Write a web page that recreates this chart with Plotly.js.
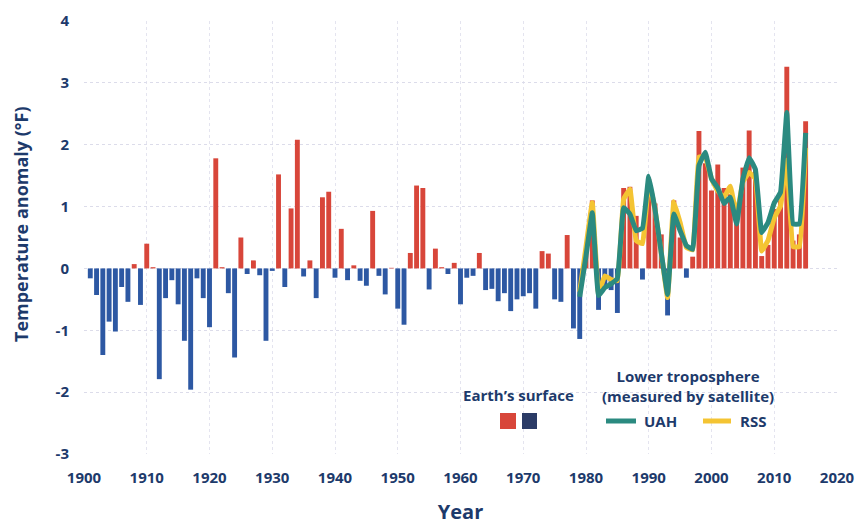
<!DOCTYPE html>
<html>
<head>
<meta charset="utf-8">
<script src="https://cdn.plot.ly/plotly-3.0.1.min.js"></script>
<style>
  html, body { margin: 0; padding: 0; background: #ffffff; }
  #chart { width: 856px; height: 525px; }
</style>
</head>
<body>
<div id="chart"></div>
<script>
// ---- Data ----
const surfaceYears = [];
for (let y = 1901; y <= 2015; y++) surfaceYears.push(y);

const surfaceAnomaly = [
  -0.16, -0.43, -1.40, -0.86, -1.02, -0.30, -0.54, 0.07, -0.59, 0.40,   // 1901-1910
   0.02, -1.79, -0.48, -0.19, -0.58, -1.17, -1.96, -0.16, -0.48, -0.95,  // 1911-1920
   1.78,  0.02, -0.40, -1.44,  0.50, -0.09,  0.13, -0.11, -1.17, -0.04,  // 1921-1930
   1.52, -0.30,  0.97,  2.08, -0.13,  0.13, -0.48,  1.15,  1.24, -0.15,  // 1931-1940
   0.64, -0.19,  0.05, -0.20, -0.28,  0.93, -0.12, -0.42,  0.01, -0.65,  // 1941-1950
  -0.91,  0.25,  1.34,  1.30, -0.34,  0.32,  0.02, -0.09,  0.09, -0.58,  // 1951-1960
  -0.15, -0.12,  0.25, -0.35, -0.33, -0.53, -0.40, -0.69, -0.50, -0.45,  // 1961-1970
  -0.40, -0.65,  0.28,  0.24, -0.50, -0.54,  0.54, -0.97, -1.14,  0.25,  // 1971-1980
   1.10, -0.67, -0.30, -0.35, -0.72,  1.30,  1.32,  0.85, -0.18,  1.45,  // 1981-1990
   1.05,  0.55, -0.76,  1.10,  0.50, -0.15,  0.19,  2.22,  1.70,  1.26,  // 1991-2000
   1.68,  1.30,  1.20,  1.00,  1.63,  2.23,  1.60,  0.20,  0.38,  0.96,  // 2001-2010
   1.10,  3.26,  0.45,  0.55,  2.38                                      // 2011-2015
];

const satYears = [];
for (let y = 1979; y <= 2015; y++) satYears.push(y);

const uahAnomaly = [
  -0.46,  0.20,  0.90, -0.44, -0.31, -0.25, -0.16,  0.98,  0.88,  0.61,  // 1979-1988
   0.65,  1.49,  0.95,  0.25, -0.42,  0.88,  0.61,  0.37,  0.31,  1.66,  // 1989-1998
   1.88,  1.45,  1.30,  1.05,  1.15,  0.72,  1.44,  1.79,  1.60,  0.58,  // 1999-2008
   0.74,  1.06,  1.23,  2.52,  0.72,  0.72,  2.19                        // 2009-2015
];

const rssAnomaly = [
  -0.38,  0.35,  1.06, -0.40, -0.12, -0.18, -0.20,  1.12,  1.28,  0.45,  // 1979-1988
   0.40,  1.40,  0.95,  0.25, -0.47,  1.08,  0.74,  0.34,  0.30,  1.80,  // 1989-1998
   1.80,  1.45,  1.25,  1.15,  1.33,  0.85,  1.40,  1.55,  1.45,  0.28,  // 1999-2008
   0.45,  0.82,  1.01,  1.75,  0.35,  0.35,  1.95                        // 2009-2015
];

const xTickVals = [1900, 1910, 1920, 1930, 1940, 1950, 1960, 1970, 1980, 1990, 2000, 2010, 2020];
const yTickVals = [-3, -2, -1, 0, 1, 2, 3, 4];
const yTickText = ["-3", "-2", "-1", "0", "1", "2", "3", "4"];

// ---- Styles ----
const RED = "#d8463a";
const BLUE = "#2d58a3";
const NAVY_SQ = "#2b3b66";
const TEAL = "#2b8a80";
const YELLOW = "#f4c433";
const TXT = "#1d3a6b";
const FONT = "Open Sans, Noto Sans, sans-serif";

const barColors = surfaceAnomaly.map(v => v >= 0 ? RED : BLUE);

const traces = [
  {
    type: "bar",
    x: surfaceYears,
    y: surfaceAnomaly,
    width: 0.78,
    marker: { color: barColors, line: { width: 0 } },
    name: "Earth’s surface",
    hoverinfo: "x+y"
  },
  {
    type: "scatter",
    mode: "lines",
    x: satYears,
    y: rssAnomaly,
    line: { color: YELLOW, width: 5, shape: "spline", smoothing: 0.25 },
    name: "RSS"
  },
  {
    type: "scatter",
    mode: "lines",
    x: satYears,
    y: uahAnomaly,
    line: { color: TEAL, width: 5, shape: "spline", smoothing: 0.25 },
    name: "UAH"
  }
];

// legend placement helpers (paper coordinates)
const L = 84, R = 837, T = 21, B = 454;
const px = v => (v - L) / (R - L);
const py = v => (B - v) / (B - T);

const layout = {
  width: 856,
  height: 525,
  margin: { l: L, r: 856 - R, t: T, b: 525 - B },
  paper_bgcolor: "#ffffff",
  plot_bgcolor: "#ffffff",
  showlegend: false,
  bargap: 0.2,
  font: { family: FONT, color: TXT },
  xaxis: {
    range: [1900, 2020],
    tickvals: xTickVals,
    ticks: "",
    showline: false,
    zeroline: false,
    showgrid: true,
    gridcolor: "#e4e4ef",
    griddash: "dot",
    gridwidth: 1,
    tickfont: { family: FONT, size: 15, color: TXT, weight: 700 },
    ticklabelstandoff: 13,
    title: { text: "Year", font: { family: FONT, size: 20, color: TXT, weight: 700 }, standoff: 20 }
  },
  yaxis: {
    range: [-3, 4],
    tickvals: yTickVals,
    ticktext: yTickText,
    ticks: "",
    showline: false,
    zeroline: false,
    showgrid: true,
    gridcolor: "#dcdcea",
    griddash: "dot",
    gridwidth: 1,
    tickfont: { family: FONT, size: 15, color: TXT, weight: 700 },
    ticklabelstandoff: 14
  },
  annotations: [
    { xref: "paper", yref: "paper", x: px(21), y: py(224), text: "Temperature anomaly (°F)",
      textangle: -90, showarrow: false, xanchor: "center", yanchor: "middle",
      font: { family: FONT, size: 18, color: TXT, weight: 700 } },
    { xref: "paper", yref: "paper", x: px(518), y: py(395), text: "Earth’s surface",
      showarrow: false, xanchor: "center", yanchor: "middle",
      font: { family: FONT, size: 15, color: TXT, weight: 700 } },
    { xref: "paper", yref: "paper", x: px(688), y: py(386), text: "Lower troposphere<br>(measured by satellite)",
      showarrow: false, xanchor: "center", yanchor: "middle",
      font: { family: FONT, size: 15, color: TXT, weight: 700 } },
    { xref: "paper", yref: "paper", x: px(642), y: py(421), text: "UAH",
      showarrow: false, xanchor: "left", yanchor: "middle",
      font: { family: FONT, size: 15, color: TXT, weight: 700 } },
    { xref: "paper", yref: "paper", x: px(738), y: py(421), text: "RSS",
      showarrow: false, xanchor: "left", yanchor: "middle",
      font: { family: FONT, size: 15, color: TXT, weight: 700 } }
  ],
  shapes: [
    { type: "rect", xref: "paper", yref: "paper", x0: px(500), x1: px(516), y0: py(429), y1: py(413),
      fillcolor: RED, line: { width: 0 } },
    { type: "rect", xref: "paper", yref: "paper", x0: px(522), x1: px(537), y0: py(429), y1: py(413),
      fillcolor: NAVY_SQ, line: { width: 0 } },
    { type: "line", xref: "paper", yref: "paper", x0: px(606), x1: px(636), y0: py(421), y1: py(421),
      line: { color: TEAL, width: 5 } },
    { type: "line", xref: "paper", yref: "paper", x0: px(703), x1: px(731), y0: py(421), y1: py(421),
      line: { color: YELLOW, width: 5 } }
  ]
};

Plotly.newPlot("chart", traces, layout, { displayModeBar: false, staticPlot: true });
</script>
</body>
</html>
